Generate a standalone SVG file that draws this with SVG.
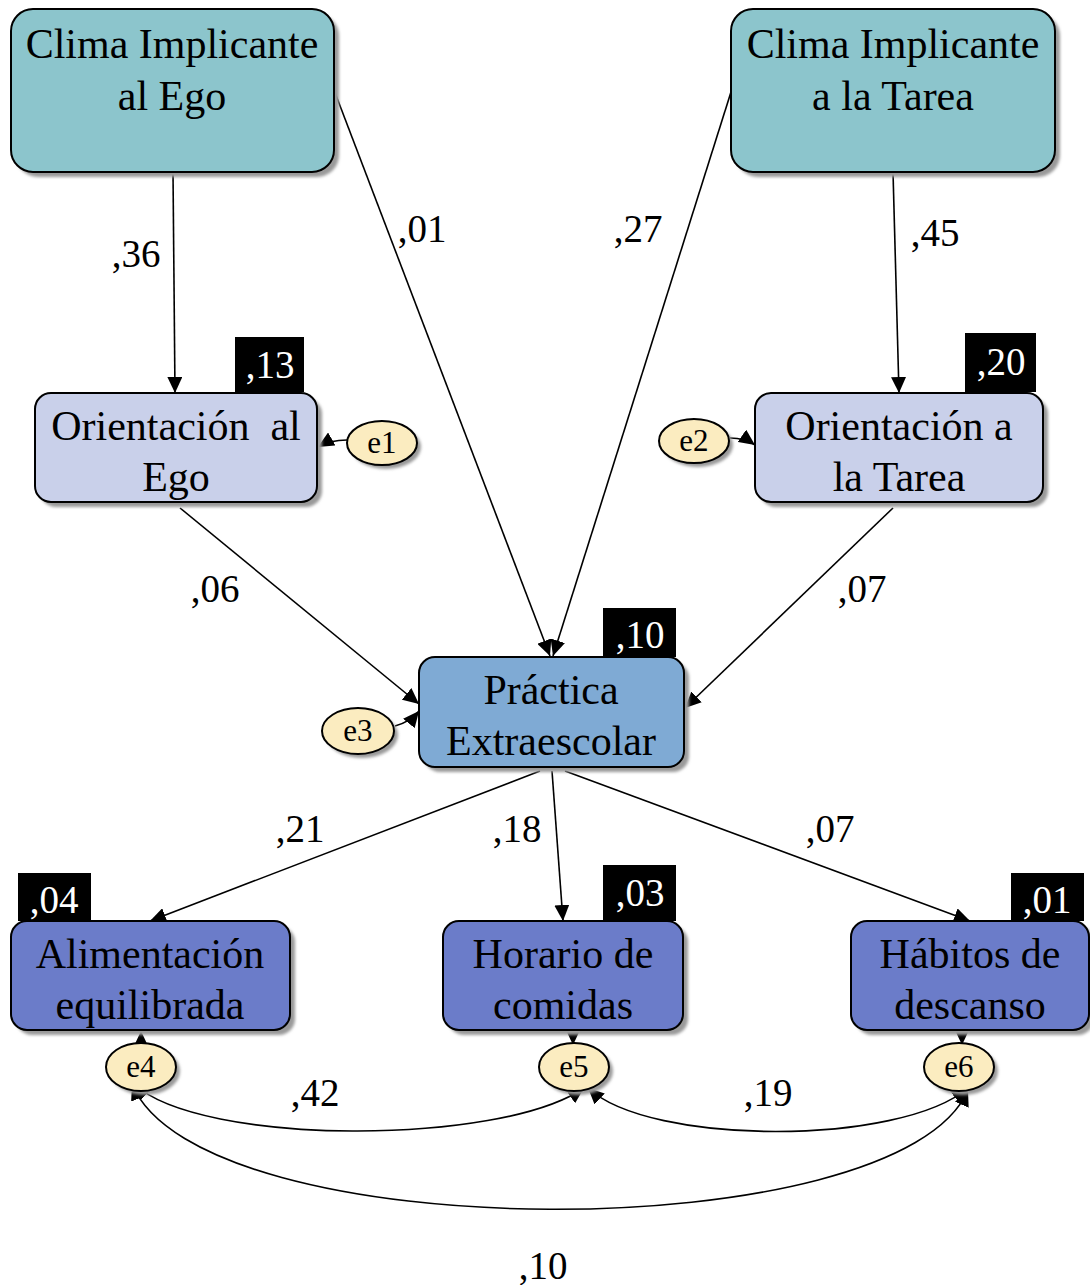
<svg xmlns="http://www.w3.org/2000/svg" width="1090" height="1285" viewBox="0 0 1090 1285">
  <defs>
    <marker id="arrow" markerUnits="userSpaceOnUse" markerWidth="17" markerHeight="15" refX="16" refY="7.5" orient="auto-start-reverse">
      <path d="M0,0 L16,7.5 L0,15 z" fill="#000"/>
    </marker>
    <filter id="soft" x="-10%" y="-10%" width="130%" height="130%">
      <feGaussianBlur stdDeviation="1.5"/>
    </filter>
  </defs>
  <style>
    .shadow { fill: #9a9a9a; filter: url(#soft); }
    .box { stroke: #000; stroke-width: 2; }
    .climate { fill: #8cc5cc; }
    .orient { fill: #c9d0ea; }
    .practice { fill: #7faad4; }
    .habit { fill: #6b7cc9; }
    .err { fill: #fbecc0; stroke: #000; stroke-width: 2; }
    .label { font-family: "Liberation Serif", "DejaVu Serif", serif; font-size: 42px; fill: #000; text-anchor: middle; }
    .small { font-family: "Liberation Serif", "DejaVu Serif", serif; font-size: 31px; fill: #000; text-anchor: middle; }
    .coef { font-family: "Liberation Serif", "DejaVu Serif", serif; font-size: 39px; fill: #000; text-anchor: middle; }
    .r2box { fill: #000; }
    .r2 { font-family: "Liberation Serif", "DejaVu Serif", serif; font-size: 39px; fill: #fff; text-anchor: middle; }
    .edge { fill: none; stroke: #000; stroke-width: 1.6; marker-end: url(#arrow); }
    .cov { fill: none; stroke: #000; stroke-width: 1.6; marker-start: url(#arrow); marker-end: url(#arrow); }
  </style>

  <!-- connectors -->
  <g id="connectors">
    <path class="edge" d="M173,172 L175,393"/>
    <path class="edge" d="M334,90 L550,656"/>
    <path class="edge" d="M731,92 L553,656"/>
    <path class="edge" d="M893,172 L899,393"/>
    <path class="edge" d="M180,508 L419,704"/>
    <path class="edge" d="M893,508 L685,708"/>
    <path class="edge" d="M347,440 Q330,440 318,447"/>
    <path class="edge" d="M730,438 Q745,438 755,445"/>
    <path class="edge" d="M395,726 Q410,722 419,711"/>
    <path class="edge" d="M540,771 L150,921"/>
    <path class="edge" d="M552,771 L563,921"/>
    <path class="edge" d="M565,771 L970,921"/>
    <path class="edge" d="M141,1044 L141,1031"/>
    <path class="edge" d="M573,1030 L573,1045"/>
    <path class="edge" d="M962,1030 L962,1045"/>
    <path class="cov" d="M134,1084 C200,1146 500,1146 584,1088"/>
    <path class="cov" d="M588,1088 C650,1146 900,1146 968,1088"/>
    <path class="cov" d="M132,1084 C200,1250 900,1250 968,1090"/>
    <text class="coef" x="136" y="267">,36</text>
    <text class="coef" x="422" y="242">,01</text>
    <text class="coef" x="638" y="242">,27</text>
    <text class="coef" x="935" y="246">,45</text>
    <text class="coef" x="215" y="602">,06</text>
    <text class="coef" x="862" y="602">,07</text>
    <text class="coef" x="300" y="842">,21</text>
    <text class="coef" x="517" y="842">,18</text>
    <text class="coef" x="830" y="842">,07</text>
    <text class="coef" x="315" y="1106">,42</text>
    <text class="coef" x="768" y="1106">,19</text>
    <text class="coef" x="543" y="1279">,10</text>
  </g>

  <!-- exogenous climate variables -->
  <g id="clima-ego">
    <rect class="shadow" x="16" y="14" width="323" height="163" rx="22"/>
    <rect class="box climate" x="11" y="9" width="323" height="163" rx="22"/>
    <text class="label" x="172" y="58">Clima Implicante</text>
    <text class="label" x="172" y="110">al Ego</text>
  </g>
  <g id="clima-tarea">
    <rect class="shadow" x="736" y="14" width="324" height="163" rx="22"/>
    <rect class="box climate" x="731" y="9" width="324" height="163" rx="22"/>
    <text class="label" x="893" y="58">Clima Implicante</text>
    <text class="label" x="893" y="110">a la Tarea</text>
  </g>

  <!-- goal orientations -->
  <g id="orientacion-ego">
    <rect class="shadow" x="40" y="398" width="282" height="109" rx="16"/>
    <rect class="box orient" x="35" y="393" width="282" height="109" rx="16"/>
    <text class="label" x="176" y="440" xml:space="preserve">Orientación  al</text>
    <text class="label" x="176" y="491">Ego</text>
    <rect class="r2box" x="235" y="337" width="69" height="55"/>
    <text class="r2" x="270" y="378">,13</text>
  </g>
  <g id="orientacion-tarea">
    <rect class="shadow" x="760" y="398" width="288" height="109" rx="16"/>
    <rect class="box orient" x="755" y="393" width="288" height="109" rx="16"/>
    <text class="label" x="899" y="440">Orientación a</text>
    <text class="label" x="899" y="491">la Tarea</text>
    <rect class="r2box" x="965" y="333" width="71" height="59"/>
    <text class="r2" x="1001" y="375">,20</text>
  </g>

  <!-- extracurricular practice -->
  <g id="practica">
    <rect class="shadow" x="424" y="662" width="265" height="110" rx="16"/>
    <rect class="box practice" x="419" y="657" width="265" height="110" rx="16"/>
    <text class="label" x="551" y="704">Práctica</text>
    <text class="label" x="551" y="755">Extraescolar</text>
    <rect class="r2box" x="603" y="608" width="73" height="49"/>
    <text class="r2" x="640" y="648">,10</text>
  </g>

  <!-- health habits -->
  <g id="alimentacion">
    <rect class="shadow" x="16" y="926" width="279" height="109" rx="16"/>
    <rect class="box habit" x="11" y="921" width="279" height="109" rx="16"/>
    <text class="label" x="150" y="968">Alimentación</text>
    <text class="label" x="150" y="1019">equilibrada</text>
    <rect class="r2box" x="18" y="873" width="73" height="48"/>
    <text class="r2" x="54" y="913">,04</text>
  </g>
  <g id="horario">
    <rect class="shadow" x="448" y="926" width="240" height="109" rx="16"/>
    <rect class="box habit" x="443" y="921" width="240" height="109" rx="16"/>
    <text class="label" x="563" y="968">Horario de</text>
    <text class="label" x="563" y="1019">comidas</text>
    <rect class="r2box" x="603" y="865" width="73" height="56"/>
    <text class="r2" x="640" y="906">,03</text>
  </g>
  <g id="descanso">
    <rect class="shadow" x="856" y="926" width="238" height="109" rx="16"/>
    <rect class="box habit" x="851" y="921" width="238" height="109" rx="16"/>
    <text class="label" x="970" y="968">Hábitos de</text>
    <text class="label" x="970" y="1019">descanso</text>
    <rect class="r2box" x="1011" y="873" width="73" height="48"/>
    <text class="r2" x="1047" y="913">,01</text>
  </g>

  <!-- error terms -->
  <g id="e1">
    <ellipse class="shadow" cx="386" cy="447" rx="35" ry="22"/>
    <ellipse class="err" cx="382" cy="443" rx="35" ry="22"/>
    <text class="small" x="382" y="453">e1</text>
  </g>
  <g id="e2">
    <ellipse class="shadow" cx="698" cy="445" rx="35" ry="22"/>
    <ellipse class="err" cx="694" cy="441" rx="35" ry="22"/>
    <text class="small" x="694" y="451">e2</text>
  </g>
  <g id="e3">
    <ellipse class="shadow" cx="362" cy="735" rx="36" ry="23"/>
    <ellipse class="err" cx="358" cy="731" rx="36" ry="23"/>
    <text class="small" x="358" y="741">e3</text>
  </g>
  <g id="e4">
    <ellipse class="shadow" cx="145" cy="1071" rx="35" ry="24"/>
    <ellipse class="err" cx="141" cy="1067" rx="35" ry="24"/>
    <text class="small" x="141" y="1077">e4</text>
  </g>
  <g id="e5">
    <ellipse class="shadow" cx="578" cy="1071" rx="35" ry="24"/>
    <ellipse class="err" cx="574" cy="1067" rx="35" ry="24"/>
    <text class="small" x="574" y="1077">e5</text>
  </g>
  <g id="e6">
    <ellipse class="shadow" cx="963" cy="1071" rx="35" ry="24"/>
    <ellipse class="err" cx="959" cy="1067" rx="35" ry="24"/>
    <text class="small" x="959" y="1077">e6</text>
  </g>
</svg>
